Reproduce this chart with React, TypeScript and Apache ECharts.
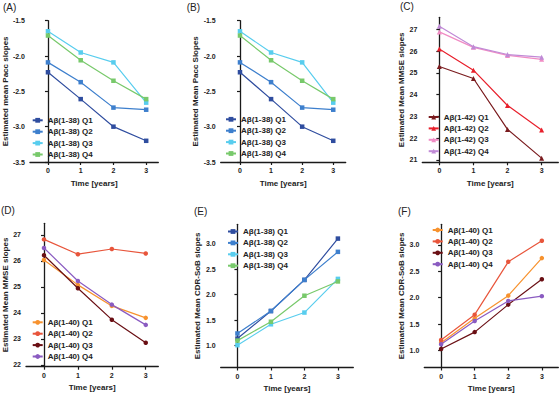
import { useEffect, useRef } from "react";
import * as echarts from "echarts";

const years = [0, 1, 2, 3];

// Pacc slopes by Aβ(1-38) quartile
const paccQ1 = [-2.23, -2.61, -3.0, -3.2];
const paccQ2 = [-2.09, -2.37, -2.73, -2.76];
const paccQ3 = [-1.65, -1.95, -2.09, -2.66];
const paccQ4 = [-1.71, -2.06, -2.35, -2.61];

// MMSE slopes by Aβ(1-42) quartile
const mmse42Q1 = [25.29, 24.74, 22.4, 21.08];
const mmse42Q2 = [26.09, 25.12, 23.5, 22.37];
const mmse42Q3 = [26.88, 26.17, 25.8, 25.62];
const mmse42Q4 = [27.14, 26.2, 25.84, 25.72];

// MMSE slopes by Aβ(1-40) quartile
const mmse40Q1 = [26.04, 25.08, 24.27, 23.81];
const mmse40Q2 = [26.83, 26.26, 26.46, 26.29];
const mmse40Q3 = [26.22, 24.95, 23.74, 22.85];
const mmse40Q4 = [26.5, 25.23, 24.32, 23.54];

// CDR-SoB slopes by Aβ(1-38) quartile
const cdr38Q1 = [1.14, 1.68, 2.29, 3.1];
const cdr38Q2 = [1.24, 1.68, 2.29, 2.84];
const cdr38Q3 = [1.01, 1.42, 1.65, 2.31];
const cdr38Q4 = [1.1, 1.47, 1.98, 2.26];

// CDR-SoB slopes by Aβ(1-40) quartile
const cdr40Q1 = [1.15, 1.61, 2.04, 2.75];
const cdr40Q2 = [1.2, 1.68, 2.68, 3.08];
const cdr40Q3 = [1.03, 1.35, 1.87, 2.35];
const cdr40Q4 = [1.12, 1.56, 1.94, 2.03];

// Tick labels
const paccTicks = [-3.5, -3.0, -2.5, -2.0, -1.5];
const mmse42Ticks = [21, 22, 23, 24, 25, 26, 27];
const mmse40Ticks = [22, 23, 24, 25, 26, 27];
const cdrTicks = [1.0, 1.5, 2.0, 2.5, 3.0];

const names38 = ["Aβ(1-38) Q1", "Aβ(1-38) Q2", "Aβ(1-38) Q3", "Aβ(1-38) Q4"];
const names42 = ["Aβ(1-42) Q1", "Aβ(1-42) Q2", "Aβ(1-42) Q3", "Aβ(1-42) Q4"];
const names40 = ["Aβ(1-40) Q1", "Aβ(1-40) Q2", "Aβ(1-40) Q3", "Aβ(1-40) Q4"];

const blues = ["#2f4d9f", "#3d7fcd", "#58cdee", "#78c96b"];
const reds = ["#7a1b1e", "#e8202c", "#f08cc4", "#c08ad6"];
const oranges = ["#f7922e", "#e8553b", "#6a0f14", "#8a5bc1"];

const FONT = "'Liberation Sans', Arial, sans-serif";

type Panel = {
  tag: string;
  box: { left: number; top: number; width: number; height: number };
  xRange: [number, number];
  yRange: [number, number];
  yTicks: number[];
  digits: number;
  yName: string;
  nameGap: number;
  names: string[];
  colors: string[];
  symbol: string;
  symbolSize: number;
  values: number[][];
  legend: { left: number; top: number };
  tagPos: [number, number];
};

const panels: Panel[] = [
  {
    tag: "(A)",
    box: { left: 25.3, top: 20.7, width: 133, height: 141.3 },
    xRange: [-0.55, 3.37],
    yRange: [-3.5, -1.5],
    yTicks: paccTicks,
    digits: 1,
    yName: "Estimated mean Pacc slopes",
    nameGap: 16,
    names: names38,
    colors: blues,
    symbol: "rect",
    symbolSize: 4.5,
    values: [paccQ1, paccQ2, paccQ3, paccQ4],
    legend: { left: 31.7, top: 116.3 },
    tagPos: [3, 2.5],
  },
  {
    tag: "(B)",
    box: { left: 220.7, top: 20.7, width: 125, height: 141.3 },
    xRange: [-0.62, 3.4],
    yRange: [-3.5, -1.5],
    yTicks: paccTicks,
    digits: 1,
    yName: "Estimated Mean Pacc Slopes",
    nameGap: 19,
    names: names38,
    colors: blues,
    symbol: "rect",
    symbolSize: 4.5,
    values: [paccQ1, paccQ2, paccQ3, paccQ4],
    legend: { left: 225, top: 115.3 },
    tagPos: [186.7, 2.5],
  },
  {
    tag: "(C)",
    box: { left: 422.3, top: 17.3, width: 136, height: 145 },
    xRange: [-0.5, 3.49],
    yRange: [20.89, 27.55],
    yTicks: mmse42Ticks,
    digits: 0,
    yName: "Estimated Mean MMSE slopes",
    nameGap: 16,
    names: names42,
    colors: reds,
    symbol: "triangle",
    symbolSize: 5,
    values: [mmse42Q1, mmse42Q2, mmse42Q3, mmse42Q4],
    legend: { left: 427.7, top: 113 },
    tagPos: [400, 1.5],
  },
  {
    tag: "(D)",
    box: { left: 25.3, top: 223.3, width: 133, height: 143.4 },
    xRange: [-0.53, 3.37],
    yRange: [21.93, 27.45],
    yTicks: mmse40Ticks,
    digits: 0,
    yName: "Estimated Mean MMSE slopes",
    nameGap: 17,
    names: names40,
    colors: oranges,
    symbol: "circle",
    symbolSize: 4.5,
    values: [mmse40Q1, mmse40Q2, mmse40Q3, mmse40Q4],
    legend: { left: 31.7, top: 318.3 },
    tagPos: [1, 205.5],
  },
  {
    tag: "(E)",
    box: { left: 220.7, top: 224.3, width: 132.6, height: 143.2 },
    xRange: [-0.5, 3.46],
    yRange: [0.573, 3.38],
    yTicks: cdrTicks,
    digits: 1,
    yName: "Estimated Mean CDR-SoB slopes",
    nameGap: 19,
    names: names38,
    colors: blues,
    symbol: "rect",
    symbolSize: 4.5,
    values: [cdr38Q1, cdr38Q2, cdr38Q3, cdr38Q4],
    legend: { left: 227, top: 227.5 },
    tagPos: [194, 206.5],
  },
  {
    tag: "(F)",
    box: { left: 424.3, top: 224.3, width: 134, height: 143.2 },
    xRange: [-0.5, 3.49],
    yRange: [0.68, 3.39],
    yTicks: cdrTicks,
    digits: 1,
    yName: "Estimated Mean CDR-SoB slopes",
    nameGap: 18,
    names: names40,
    colors: oranges,
    symbol: "circle",
    symbolSize: 4.5,
    values: [cdr40Q1, cdr40Q2, cdr40Q3, cdr40Q4],
    legend: { left: 431.7, top: 226 },
    tagPos: [398, 206.5],
  },
];

const axisLine = { show: true, lineStyle: { color: "#1a1a1a", width: 1.3 } };
const axisTick = { show: true, inside: false, length: 3, lineStyle: { color: "#1a1a1a", width: 1.2 } };
const tickText = { fontFamily: FONT, fontSize: 7, fontWeight: "bold" as const, color: "#222" };
const titleText = { fontFamily: FONT, fontSize: 8, fontWeight: "bold" as const, color: "#222" };

function buildOption() {
  const grid: any[] = [];
  const xAxis: any[] = [];
  const yAxis: any[] = [];
  const series: any[] = [];
  const legend: any[] = [];
  const graphic: any[] = [];

  panels.forEach((p, i) => {
    grid.push({ ...p.box, containLabel: false });
    xAxis.push({
      type: "value",
      gridIndex: i,
      min: p.xRange[0],
      max: p.xRange[1],
      name: "Time [years]",
      nameLocation: "middle",
      nameGap: 17,
      nameTextStyle: titleText,
      axisLine,
      axisTick: { ...axisTick, customValues: years },
      axisLabel: { ...tickText, margin: 5, customValues: years, formatter: (v: number) => String(v) },
      splitLine: { show: false },
    });
    yAxis.push({
      type: "value",
      gridIndex: i,
      min: p.yRange[0],
      max: p.yRange[1],
      name: p.yName,
      nameLocation: "middle",
      nameGap: p.nameGap,
      nameTextStyle: titleText,
      axisLine,
      axisTick: { ...axisTick, customValues: p.yTicks },
      axisLabel: {
        ...tickText,
        margin: 5,
        customValues: p.yTicks,
        formatter: (v: number) => v.toFixed(p.digits),
      },
      splitLine: { show: false },
    });
    p.names.forEach((name, k) => {
      series.push({
        type: "line",
        name,
        xAxisIndex: i,
        yAxisIndex: i,
        data: years.map((yr, j) => [yr, p.values[k][j]]),
        symbol: p.symbol,
        symbolSize: p.symbolSize,
        showAllSymbol: true,
        color: p.colors[k],
        lineStyle: { width: 1.2, color: p.colors[k] },
        itemStyle: { color: p.colors[k] },
        z: 2 + k,
      });
    });
    legend.push({
      data: p.names,
      orient: "vertical",
      left: p.legend.left,
      top: p.legend.top,
      padding: 0,
      itemWidth: 10,
      itemHeight: 6,
      itemGap: 3.4,
      selectedMode: false,
      textStyle: { ...titleText, lineHeight: 8 },
    });
    graphic.push({
      type: "text",
      left: p.tagPos[0],
      top: p.tagPos[1],
      style: { text: p.tag, font: `10px ${FONT}`, fill: "#222" },
    });
  });

  return { animation: false, grid, xAxis, yAxis, series, legend, graphic };
}

export default function App() {
  const ref = useRef<HTMLDivElement>(null);
  useEffect(() => {
    document.body.style.margin = "0";
    const chart = echarts.init(ref.current!, null, { renderer: "svg" });
    chart.setOption(buildOption() as any);
    return () => chart.dispose();
  }, []);
  return <div ref={ref} style={{ width: 560, height: 395, background: "#fff" }} />;
}
